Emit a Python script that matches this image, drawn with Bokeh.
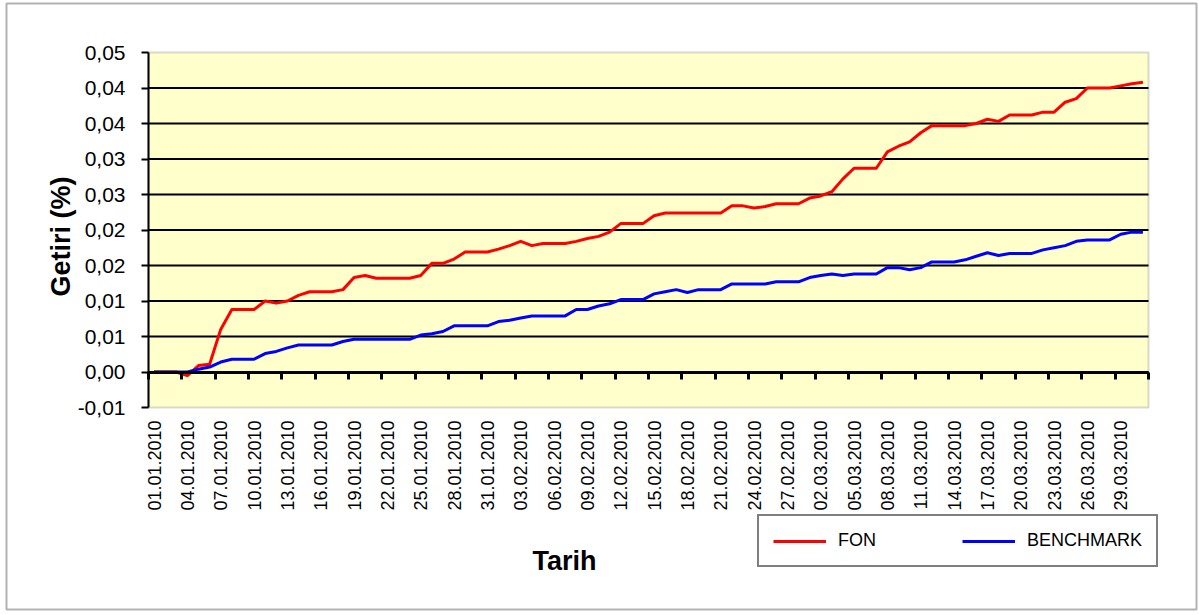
import datetime
import math
from bokeh.plotting import figure
from bokeh.models import (ColumnDataSource, FixedTicker, LinearAxis, Range1d, Legend,
                          LegendItem, CustomJSTickFormatter, BoxAnnotation)
from bokeh.core.properties import value
from bokeh.embed import file_html
from bokeh.resources import INLINE

# ---------------- data ----------------
FON = [0.0, 0.0, 0.0, -0.0005, 0.0009, 0.0011, 0.0060, 0.0088, 0.0088, 0.0088,
       0.0100, 0.0097, 0.0100, 0.0108, 0.0113, 0.0113, 0.0113, 0.0116, 0.0133, 0.0136,
       0.0132, 0.0132, 0.0132, 0.0132, 0.0136, 0.0153, 0.0153, 0.0159, 0.0169, 0.0169,
       0.0169, 0.0173, 0.0178, 0.0184, 0.0178, 0.0181, 0.0181, 0.0181, 0.0184, 0.0188,
       0.0191, 0.0197, 0.0209, 0.0209, 0.0209, 0.0220, 0.0224, 0.0224, 0.0224, 0.0224,
       0.0224, 0.0224, 0.0234, 0.0234, 0.0231, 0.0233, 0.0237, 0.0237, 0.0237, 0.0245,
       0.0248, 0.0254, 0.0272, 0.0287, 0.0287, 0.0287, 0.0310, 0.0318, 0.0324, 0.0337,
       0.0347, 0.0347, 0.0347, 0.0347, 0.0350, 0.0356, 0.0353, 0.0362, 0.0362, 0.0362,
       0.0366, 0.0366, 0.0380, 0.0385, 0.0400, 0.0400, 0.0400, 0.0403, 0.0406, 0.0408]

BENCHMARK = [0.0, 0.0, 0.0, 0.0, 0.0004, 0.0007, 0.0014, 0.0018, 0.0018, 0.0018,
             0.0026, 0.0029, 0.0034, 0.0038, 0.0038, 0.0038, 0.0038, 0.0043, 0.0046, 0.0046,
             0.0046, 0.0046, 0.0046, 0.0046, 0.0052, 0.0054, 0.0057, 0.0065, 0.0065, 0.0065,
             0.0065, 0.0071, 0.0073, 0.0076, 0.0079, 0.0079, 0.0079, 0.0079, 0.0088, 0.0088,
             0.0093, 0.0096, 0.0102, 0.0102, 0.0102, 0.0110, 0.0113, 0.0116, 0.0112, 0.0116,
             0.0116, 0.0116, 0.0124, 0.0124, 0.0124, 0.0124, 0.0127, 0.0127, 0.0127, 0.0133,
             0.0136, 0.0138, 0.0136, 0.0138, 0.0138, 0.0138, 0.0147, 0.0147, 0.0144, 0.0147,
             0.0155, 0.0155, 0.0155, 0.0158, 0.0163, 0.0168, 0.0164, 0.0167, 0.0167, 0.0167,
             0.0172, 0.0175, 0.0178, 0.0184, 0.0186, 0.0186, 0.0186, 0.0194, 0.0197, 0.0197]

start_day = datetime.date(2010, 1, 1)
dates = [(start_day + datetime.timedelta(days=k)).strftime("%d.%m.%Y") for k in range(len(FON))]
label_step = 3
x_tick_labels = dates[::label_step]

y_ticks = [-0.005, 0.0, 0.005, 0.01, 0.015, 0.02, 0.025, 0.03, 0.035, 0.04, 0.045]
y_tick_labels = ["-0,01", "0,00", "0,01", "0,01", "0,02", "0,02", "0,03", "0,03", "0,04", "0,04", "0,05"]

series_names = ["FON", "BENCHMARK"]
series_colors = ["#FF0000", "#0000FF"]
x_title = "Tarih"
y_title = "Getiri (%)"

# ---------------- layout (pixels, whole canvas is the frame) ----------------
FONT = "Liberation Sans"
W, H = 1199, 615
PLOT_L, PLOT_T, PLOT_R, PLOT_B = 148, 52, 1148, 407   # yellow plot area

n = len(dates)
y_lo, y_hi = y_ticks[0], y_ticks[-1]
px_x = (PLOT_R - PLOT_L) / n
per_px = (y_hi - y_lo) / (PLOT_B - PLOT_T)
x_start = -PLOT_L / px_x
y_end = y_hi + PLOT_T * per_px
x_range = Range1d(x_start, n + (W - PLOT_R) / px_x)
y_range = Range1d(y_lo - (H - PLOT_B) * per_px, y_end)


def px_to_x(px):
    return x_start + px / px_x


def px_to_y(py):
    return y_end - py * per_px


xs = [k + 0.5 for k in range(n)]
src = ColumnDataSource(dict(x=xs, fon=FON, bench=BENCHMARK, date=dates))
x_lab_pos = [k + 0.5 for k in range(0, n, label_step)]
lab_src = ColumnDataSource(dict(x=x_lab_pos, y=[y_lo] * len(x_lab_pos), text=x_tick_labels))
grid_y = y_ticks[1:-1]
grid_src = ColumnDataSource(dict(x0=[0] * len(grid_y), x1=[n] * len(grid_y), y=grid_y))

p = figure(width=W, height=H, output_backend="svg", toolbar_location=None,
           x_range=x_range, y_range=y_range,
           x_axis_location=None, y_axis_location=None)
p.min_border = 0
p.min_border_left = 0
p.min_border_right = 0
p.min_border_top = 0
p.min_border_bottom = 0
p.background_fill_color = "white"
p.border_fill_color = "white"
p.outline_line_color = None
p.xgrid.visible = False
p.ygrid.visible = False

# outer chart border
p.add_layout(BoxAnnotation(left=6, right=W - 3, bottom=6, top=H - 3,
                           left_units="screen", right_units="screen",
                           bottom_units="screen", top_units="screen",
                           fill_alpha=0, line_color="black", line_width=2, level="overlay"))

# yellow plot area with grey edge
p.add_layout(BoxAnnotation(left=0, right=n, bottom=y_lo, top=y_hi, fill_color="#FFFFCC",
                           fill_alpha=1, line_color="#808080", line_width=2, level="image"))

# horizontal grid lines (at the y ticks, across the category range)
p.segment(x0="x0", y0="y", x1="x1", y1="y", source=grid_src, line_color="black",
          line_width=2, level="underlay")

# y axis
yaxis = LinearAxis(fixed_location=0, ticker=FixedTicker(ticks=y_ticks), bounds=(y_lo, y_hi),
                   formatter=CustomJSTickFormatter(args=dict(labels=y_tick_labels),
                                                   code="return labels[index]"))
yaxis.axis_line_color = "black"
yaxis.axis_line_width = 2
yaxis.major_tick_line_color = "black"
yaxis.major_tick_line_width = 2
yaxis.major_tick_in = 0
yaxis.major_tick_out = 7
yaxis.minor_tick_line_color = None
yaxis.major_label_standoff = 16
yaxis.major_label_text_font = FONT
yaxis.major_label_text_font_size = "21px"
yaxis.major_label_text_color = "black"
p.add_layout(yaxis, "left")

# category axis crossing at zero (line + tick marks only)
zaxis = LinearAxis(fixed_location=0, bounds=(0, n),
                   ticker=FixedTicker(ticks=list(range(0, n + 1, label_step))))
zaxis.axis_line_color = "black"
zaxis.axis_line_width = 3
zaxis.major_tick_line_color = "black"
zaxis.major_tick_line_width = 3
zaxis.major_tick_in = 0
zaxis.major_tick_out = 7
zaxis.minor_tick_line_color = None
zaxis.major_label_standoff = 0
zaxis.major_label_text_font_size = "0px"
zaxis.major_label_text_color = None
p.add_layout(zaxis, "below")

# date labels under the plot area (vertical, reading upward)
p.text("x", "y", text="text", source=lab_src, angle=math.pi / 2, text_align="right",
       text_baseline="middle", y_offset=13, text_font=value(FONT), text_font_size="18px",
       text_color="black")

# series
r1 = p.line("x", "fon", source=src, line_color=series_colors[0], line_width=3, line_join="round")
r2 = p.line("x", "bench", source=src, line_color=series_colors[1], line_width=3, line_join="round")

legend = Legend(items=[LegendItem(label=series_names[0], renderers=[r1]),
                       LegendItem(label=series_names[1], renderers=[r2])],
                orientation="horizontal", location=(757, H - 567))
legend.border_line_color = "black"
legend.border_line_width = 2
legend.background_fill_color = "white"
legend.background_fill_alpha = 1
legend.padding = 14
legend.spacing = 86
legend.glyph_width = 53
legend.glyph_height = 20
legend.label_standoff = 12
legend.label_text_font = FONT
legend.label_text_font_size = "18px"
legend.label_text_color = "black"
legend.margin = 0
p.add_layout(legend)

# axis titles
p.text(x=[px_to_x(532)], y=[px_to_y(560)], text=[x_title], text_align="left",
       text_baseline="alphabetic", text_font=value(FONT), text_font_size="27px",
       text_font_style="bold", text_color="black")
p.text(x=[px_to_x(60)], y=[px_to_y(236)], text=[y_title], angle=math.pi / 2,
       text_align="center", text_baseline="alphabetic", text_font=value(FONT),
       text_font_size="27px", text_font_style="bold", text_color="black")

open("out.html", "w").write(file_html(p, INLINE))
